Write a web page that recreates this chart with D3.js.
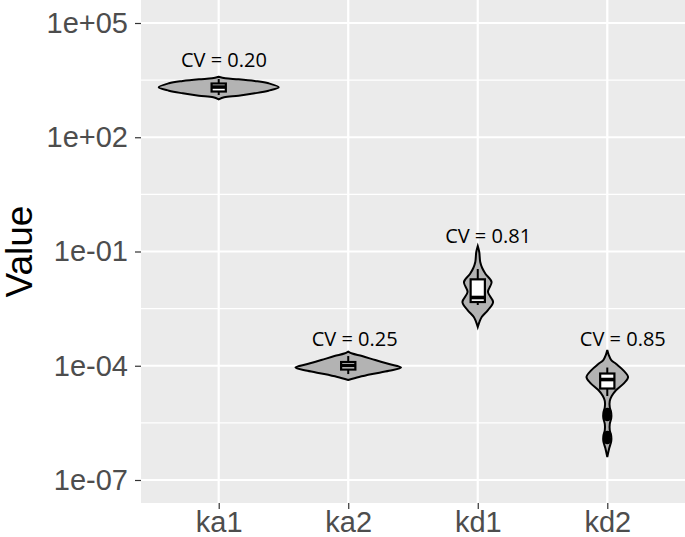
<!DOCTYPE html>
<html>
  <head>
    <meta charset="utf-8">
    <style>
      body { margin: 0; background: #fff; }
      .axis text { font-family: "Liberation Sans", Arial, sans-serif; font-size: 29px; fill: #4D4D4D; }
      .axis line { stroke: #333; stroke-width: 1.2; }
      .axis path { display: none; }
    </style>
  </head>
  <body>
    <div class='chart-container'></div>
    <script src="https://cdn.jsdelivr.net/npm/d3@7"></script>
    <script>
// categories and axis ticks
var categories = ['ka1', 'ka2', 'kd1', 'kd2'];
var yTicks = [1e5, 1e2, 1e-1, 1e-4, 1e-7];
var yTickLabels = ['1e+05', '1e+02', '1e-01', '1e-04', '1e-07'];
var yMinor = [Math.pow(10, 3.5), Math.pow(10, 0.5), Math.pow(10, -2.5), Math.pow(10, -5.5)];

// violin outlines: [log10 value, relative density]
var violinKa1 = [[3.590, 0], [3.548, 0.11], [3.522, 0.33], [3.477, 0.60], [3.417, 0.83], [3.311, 1.00],
  [3.222, 0.83], [3.154, 0.60], [3.091, 0.33], [3.049, 0.09], [2.996, 0]];
var violinKa2 = [[-3.627, 0], [-3.679, 0.066], [-3.745, 0.23], [-3.850, 0.45], [-3.955, 0.68], [-4.047, 0.88],
  [-4.131, 0.68], [-4.218, 0.40], [-4.296, 0.18], [-4.375, 0]];
var violinKd1 = [[-0.856, 0], [-1.014, 0.025], [-1.276, 0.041], [-1.434, 0.074], [-1.591, 0.13], [-1.801, 0.23],
  [-2.064, 0.17], [-2.327, 0.256], [-2.537, 0.17], [-2.721, 0.066], [-2.826, 0.033], [-2.983, 0]];
var violinKd2 = [[-3.587, 0], [-3.719, 0.025], [-3.850, 0.066], [-3.955, 0.149], [-4.113, 0.264], [-4.296, 0.347],
  [-4.454, 0.28], [-4.638, 0.149], [-4.795, 0.074], [-4.926, 0.041], [-5.084, 0.041], [-5.242, 0.066],
  [-5.373, 0.066], [-5.530, 0.041], [-5.688, 0.041], [-5.846, 0.066], [-5.977, 0.066], [-6.161, 0.033], [-6.397, 0]];
var violins = [violinKa1, violinKa2, violinKd1, violinKd2];

// box statistics (log10)
var whiskerHigh = [3.529, -3.745, -1.460, -4.047];
var q3 = [3.411, -3.902, -1.731, -4.204];
var median = [3.319, -3.994, -2.208, -4.362];
var q1 = [3.201, -4.099, -2.327, -4.598];
var whiskerLow = [3.109, -4.218, -2.405, -4.795];
var outliersKd2 = [-5.215, -5.347, -5.819, -5.951];

// CV annotations
var cvLabels = ['CV = 0.20', 'CV = 0.25', 'CV = 0.81', 'CV = 0.85'];
var cvLabelLog = [3.852, -3.482, -0.770, -3.482];
var cvLabelShift = [0.04, 0.05, 0.08, 0.12];

var width = 685, height = 537;
var margin = {top: 0, right: 0, bottom: 34, left: 141};
var pw = width - margin.left - margin.right;
var ph = height - margin.top - margin.bottom;

var svg = d3.select('.chart-container').append('svg')
    .attr('width', width)
    .attr('height', height);

var g = svg.append('g')
    .attr('transform', 'translate(' + margin.left + ',' + margin.top + ')');

var x = d3.scalePoint()
    .domain(categories)
    .range([0, pw])
    .padding(0.6);

var y = d3.scaleLog()
    .domain([Math.pow(10, -7.604), Math.pow(10, 5.604)])
    .range([ph, 0]);

var w = d3.scaleLinear().domain([0, 1]).range([0, 60]);

g.append('rect')
    .attr('width', pw)
    .attr('height', ph)
    .attr('fill', '#EBEBEB');

// grid
g.selectAll('.minor').data(yMinor).enter().append('line')
    .attr('x1', 0).attr('x2', pw)
    .attr('y1', d => y(d)).attr('y2', d => y(d))
    .style('stroke', '#fff').style('stroke-width', 1.1);
g.selectAll('.major').data(yTicks).enter().append('line')
    .attr('x1', 0).attr('x2', pw)
    .attr('y1', d => y(d)).attr('y2', d => y(d))
    .style('stroke', '#fff').style('stroke-width', 2.2);
g.selectAll('.vmajor').data(categories).enter().append('line')
    .attr('x1', d => x(d)).attr('x2', d => x(d))
    .attr('y1', 0).attr('y2', ph)
    .style('stroke', '#fff').style('stroke-width', 2.2);

// violins
categories.forEach(function(c, i) {
  var cx = x(c);
  var area = d3.area()
      .curve(d3.curveCatmullRom)
      .y(d => y(Math.pow(10, d[0])))
      .x0(d => cx - w(d[1]))
      .x1(d => cx + w(d[1]));
  g.append('path')
      .attr('d', area(violins[i]))
      .style('fill', '#B3B3B3')
      .style('stroke', '#000')
      .style('stroke-width', 2);
});

// boxplots
var bw = x.step() * 0.11;
categories.forEach(function(c, i) {
  var cx = x(c);
  var yy = v => y(Math.pow(10, v));
  g.append('line')
      .attr('x1', cx).attr('x2', cx)
      .attr('y1', yy(whiskerHigh[i])).attr('y2', yy(q3[i]))
      .style('stroke', '#000').style('stroke-width', 2);
  g.append('line')
      .attr('x1', cx).attr('x2', cx)
      .attr('y1', yy(q1[i])).attr('y2', yy(whiskerLow[i]))
      .style('stroke', '#000').style('stroke-width', 2);
  g.append('rect')
      .attr('x', cx - bw / 2)
      .attr('y', yy(q3[i]))
      .attr('width', bw)
      .attr('height', yy(q1[i]) - yy(q3[i]))
      .style('fill', '#fff')
      .style('stroke', '#000')
      .style('stroke-width', 2.2);
  g.append('line')
      .attr('x1', cx - bw / 2).attr('x2', cx + bw / 2)
      .attr('y1', yy(median[i])).attr('y2', yy(median[i]))
      .style('stroke', '#000').style('stroke-width', 3.6);
});

g.selectAll('.outlier').data(outliersKd2).enter().append('circle')
    .attr('cx', x('kd2'))
    .attr('cy', d => y(Math.pow(10, d)))
    .attr('r', 4.2)
    .style('fill', '#000');

// CV labels
g.selectAll('.cv').data(cvLabels).enter().append('text')
    .attr('x', (d, i) => x(categories[i]) + cvLabelShift[i] * x.step())
    .attr('y', (d, i) => y(Math.pow(10, cvLabelLog[i])))
    .attr('text-anchor', 'middle')
    .style('font-family', '"Open Sans", sans-serif')
    .style('font-size', '20px')
    .style('fill', '#000')
    .text(d => d);

// axes
g.append('g')
    .attr('class', 'axis')
    .call(d3.axisLeft(y)
      .tickValues(yTicks)
      .tickFormat((d, i) => yTickLabels[i])
      .tickSize(6)
      .tickPadding(7));

g.append('g')
    .attr('class', 'axis')
    .attr('transform', 'translate(0,' + ph + ')')
    .call(d3.axisBottom(x).tickSize(6).tickPadding(2));

svg.append('text')
    .attr('transform', 'translate(32,' + (margin.top + ph / 2) + ') rotate(-90)')
    .attr('text-anchor', 'middle')
    .style('font-family', '"Liberation Sans", Arial, sans-serif')
    .style('font-size', '37px')
    .style('fill', '#000')
    .text('Value');
    </script>
  </body>
</html>
